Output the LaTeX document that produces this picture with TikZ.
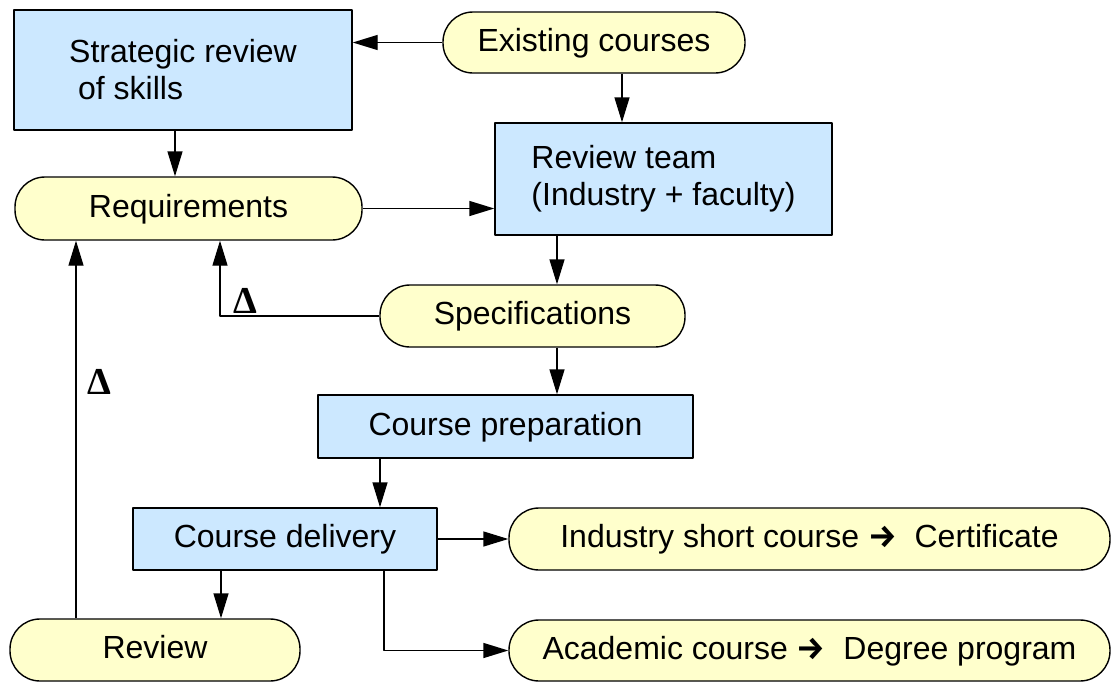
\documentclass[tikz,border=0pt]{standalone}
\usepackage{fontspec}
\setmainfont{Liberation Sans}
\newfontfamily\deltafont{Liberation Serif}
\newfontfamily\arrowfont{Fira Sans}
\usetikzlibrary{arrows.meta}
\definecolor{boxblue}{RGB}{204,232,255}
\definecolor{pillyellow}{RGB}{255,255,204}
\newcommand{\yields}{{\arrowfont\bfseries →}}

\begin{document}
\begin{tikzpicture}[x=1pt,y=-1pt,line join=round,>={Triangle[length=25pt,width=15pt]},line width=1.4pt,font=\fontsize{32}{37}\selectfont]
            \tikzset{box/.style={draw,fill=boxblue,inner sep=0pt,align=left},
                pill/.style={draw,fill=pillyellow,rounded corners=30pt,inner sep=0pt,oneline},
                oneline/.style={text height=23pt,text depth=6pt},
                delta/.style={font=\fontsize{38}{38}\selectfont\deltafont\bfseries,inner sep=2pt}}
            \useasboundingbox (0,0) rectangle (1112,683);
            % blocks
            \node[box,minimum width=338,minimum height=120] (strat) at (183,70) {Strategic review\\\hspace*{0.28em}of skills};
            \node[pill,minimum width=302,minimum height=61] (exist) at (594,42.5) {Existing courses};
            \node[box,minimum width=337,minimum height=112] (team) at (663.5,179) {Review team\\(Industry + faculty)};
            \node[pill,minimum width=347,minimum height=63] (req) at (188.5,208.5) {Requirements};
            \node[pill,minimum width=305,minimum height=62] (spec) at (532.5,316) {Specifications};
            \node[box,oneline,minimum width=375,minimum height=63] (prep) at (505.5,426.5) {Course preparation};
            \node[box,oneline,minimum width=304,minimum height=62] (deliv) at (285,539) {Course delivery};
            \node[pill,minimum width=601,minimum height=62] (ind) at (809.5,539) {Industry short course \yields\ \ Certificate};
            \node[pill,minimum width=290,minimum height=62] (rev) at (155,650) {Review};
            \node[pill,minimum width=601,minimum height=61] (acad) at (809.5,650.5) {Academic course \yields\ \ Degree program};
            % links
            \draw[->] (exist.west) -- (exist.west -| strat.east);
            \draw[->] ([xshift=28]exist.south) -- ([xshift=28]exist.south |- team.north);
            \draw[->] ([xshift=-8]strat.south) -- ([xshift=-8]strat.south |- req.north);
            \draw[->] (req.east) -- (req.east -| team.west);
            \draw[->] ([xshift=24.5]spec.north |- team.south) -- ([xshift=24.5]spec.north);
            \draw[->] (spec.west) -| node[delta,pos=0.5,anchor=south west,xshift=11] {Δ} ([xshift=31.5]req.south);
            \draw[->] ([xshift=24.5]spec.south) -- ([xshift=24.5]spec.south |- prep.north);
            \draw[->] ([xshift=-125.5]prep.south) -- ([xshift=-125.5]prep.south |- deliv.north);
            \draw[->] (deliv.east) -- (ind.west);
            \draw[->] ([xshift=99]deliv.south) |- (acad.west);
            \draw[->] ([xshift=-64]deliv.south) -- ([xshift=-64]deliv.south |- rev.north);
            \draw[->] ([xshift=-79]rev.north) -- node[delta,pos=0.625,anchor=west,xshift=9] {Δ} ([xshift=-79]rev.north |- req.south);
        \end{tikzpicture}
\end{document}
